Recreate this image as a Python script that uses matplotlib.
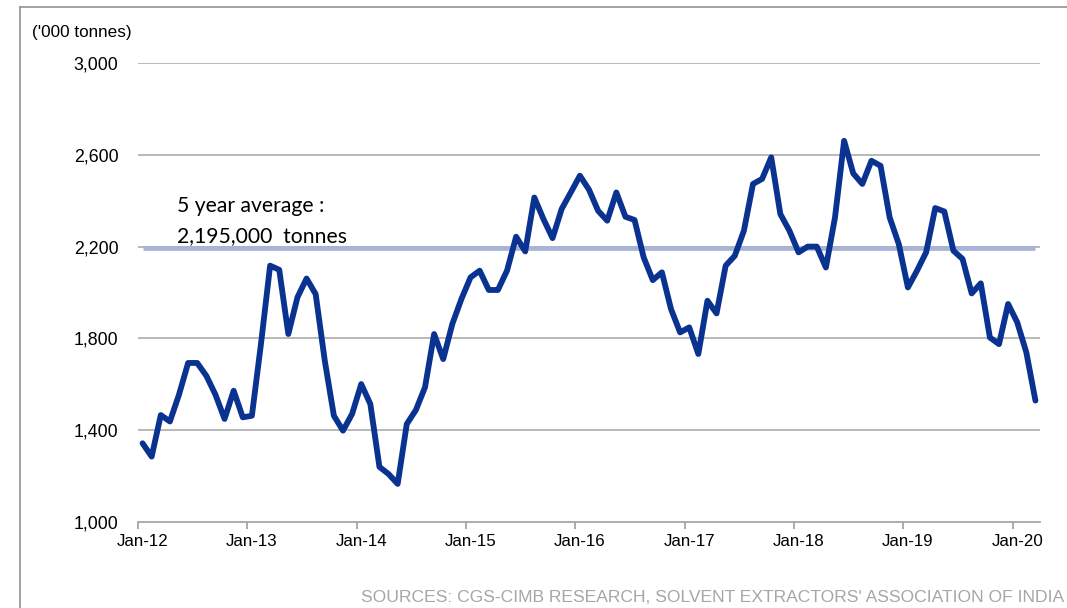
import matplotlib
matplotlib.use("Agg")
import matplotlib.pyplot as plt
from matplotlib.lines import Line2D
import numpy as np

# Monthly soybean meal data, Jan-12 .. Mar-20 ('000 tonnes)
values = [
    1343, 1285, 1466, 1438, 1555, 1693, 1693, 1637, 1555, 1449, 1572, 1456,   # 2012
    1463, 1777, 2117, 2099, 1819, 1979, 2061, 1993, 1703, 1463, 1398, 1471,   # 2013
    1601, 1514, 1240, 1209, 1166, 1427, 1488, 1587, 1819, 1710, 1863, 1972,   # 2014
    2066, 2095, 2011, 2011, 2095, 2243, 2179, 2414, 2320, 2237, 2364, 2436,   # 2015
    2509, 2448, 2356, 2313, 2436, 2330, 2316, 2153, 2054, 2088, 1928, 1826,   # 2016
    1848, 1732, 1964, 1909, 2117, 2160, 2269, 2473, 2495, 2589, 2342, 2269,   # 2017
    2175, 2200, 2200, 2109, 2327, 2661, 2519, 2473, 2574, 2552, 2327, 2211,   # 2018
    2022, 2095, 2175, 2368, 2353, 2182, 2146, 1996, 2040, 1804, 1775, 1950,   # 2019
    1870, 1739, 1529,                                                         # 2020
]
average = 2195
year_labels = ["Jan-12", "Jan-13", "Jan-14", "Jan-15", "Jan-16",
               "Jan-17", "Jan-18", "Jan-19", "Jan-20"]
y_ticks = [1000, 1400, 1800, 2200, 2600, 3000]
y_tick_labels = ["1,000", "1,400", "1,800", "2,200", "2,600", "3,000"]

n = len(values)
x = np.arange(n) + 0.5

fig = plt.figure(figsize=(10.67, 6.08), dpi=100)
ax = fig.add_axes([138 / 1067, 1 - 522 / 608, (1040 - 138) / 1067, (522 - 63) / 608])

grid_c = "#A6A6A6"
for yv in y_ticks[1:]:
    ax.axhline(yv, color=grid_c, lw=1.1, zorder=1)

ax.plot(x, [average] * n, color="#A7B4D8", lw=3.4, zorder=2, solid_capstyle="butt")
ax.plot(x, values, color="#0A3391", lw=4.2, zorder=3, solid_joinstyle="round",
        solid_capstyle="round")

ax.set_xlim(0, n)
ax.set_ylim(1000, 3000)

for s in ["left", "right", "top"]:
    ax.spines[s].set_visible(False)
ax.spines["bottom"].set_color(grid_c)
ax.spines["bottom"].set_linewidth(1.3)

ax.set_yticks(y_ticks)
ax.set_yticklabels(y_tick_labels, fontsize=12.8, family="Liberation Sans")
ax.tick_params(axis="y", length=0, pad=14)

ax.set_xticks(np.arange(0, n, 12))
ax.set_xticklabels([])
ax.tick_params(axis="x", which="major", length=5, width=1.3, color=grid_c, direction="out")
ax.set_xticks(np.arange(0, n, 12) + 0.5, minor=True)
ax.set_xticklabels(year_labels, minor=True, fontsize=12.2, family="Liberation Sans")
ax.tick_params(axis="x", which="minor", length=0, pad=9)

fig.text(32 / 1067, 1 - 33 / 608, "('000 tonnes)", fontsize=12.3,
         family="Liberation Sans", va="center", ha="left")

ax.text(177 / 1067, 1 - 212 / 608, "5 year average :", transform=fig.transFigure,
        fontsize=15.2, family="Lato", va="baseline", ha="left")
ax.text(177 / 1067, 1 - 242 / 608, "2,195,000  tonnes", transform=fig.transFigure,
        fontsize=15.2, family="Lato", va="baseline", ha="left")

fig.text(1064 / 1067, 1 - 597 / 608,
         "SOURCES: CGS-CIMB RESEARCH, SOLVENT EXTRACTORS' ASSOCIATION OF INDIA",
         fontsize=12.6, family="Liberation Sans", color="#A6A6A6", va="center", ha="right")

# frame (only left and top edges visible in the picture)
fig.add_artist(Line2D([20 / 1067, 20 / 1067], [0, 1 - 7 / 608], transform=fig.transFigure,
                      color="#9A9A9A", lw=1.3))
fig.add_artist(Line2D([20 / 1067, 1], [1 - 7 / 608, 1 - 7 / 608], transform=fig.transFigure,
                      color="#9A9A9A", lw=1.3))

fig.savefig("out.png", dpi=100)
